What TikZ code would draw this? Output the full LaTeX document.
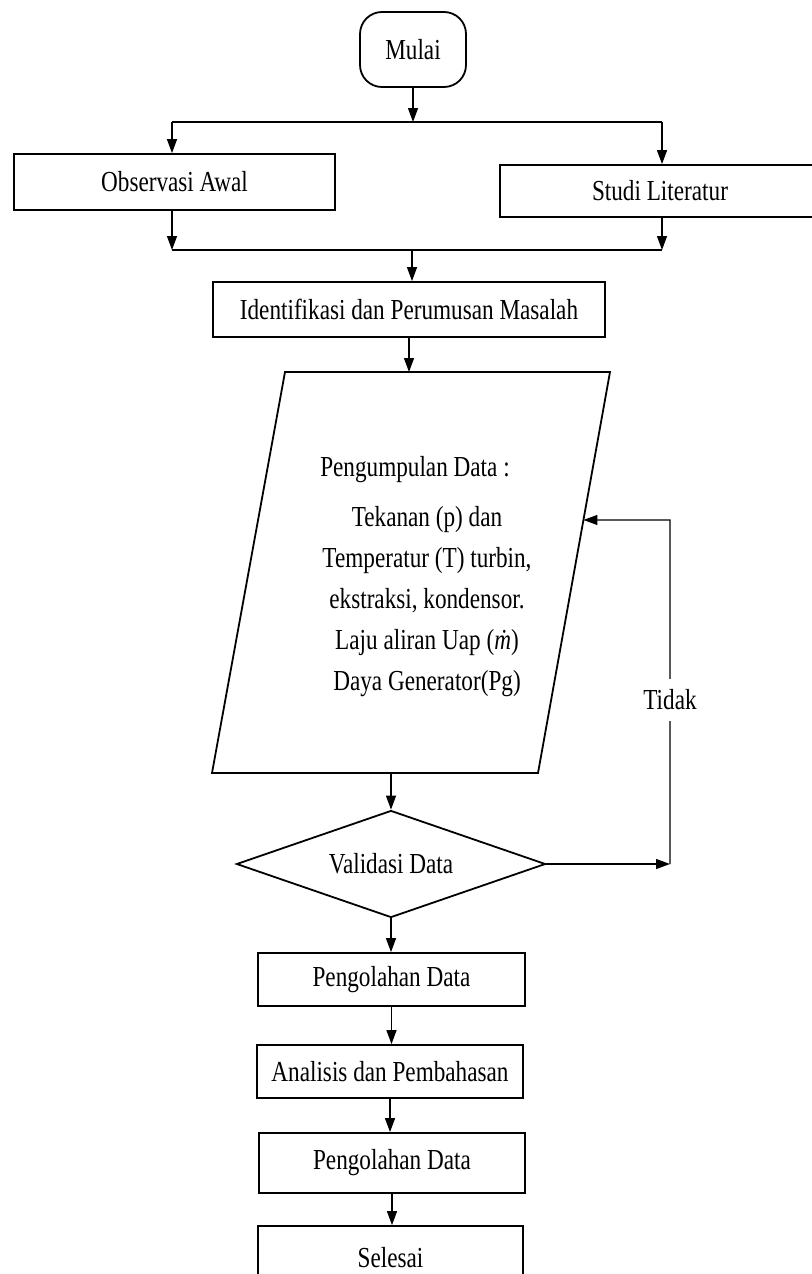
\documentclass[tikz,border=0pt]{standalone}
\usepackage{fontspec}
\setmainfont{Liberation Serif}[FakeStretch=0.8]
\usetikzlibrary{shapes.geometric,arrows.meta,calc}
\begin{document}
\begin{tikzpicture}[x=1pt,y=-1pt,
  every node/.style={font=\fontsize{29}{41}\selectfont},
  box/.style={draw, line width=1.8pt, inner sep=0pt, rectangle},
  arr/.style={line width=1.3pt, -{Triangle[length=14pt,width=10pt]}},
  ln/.style={line width=1.3pt},
]
\useasboundingbox (0,0) rectangle (811,1274);

% nodes
\node[box, rounded corners=22pt, minimum width=106pt, minimum height=75pt] (mulai) at (413,49.5) {Mulai};
\node[box, minimum width=321pt, minimum height=56pt] (obs) at (174.5,182) {Observasi Awal};
\node[box, minimum width=320pt, minimum height=52pt] (studi) at (660,191) {Studi Literatur};
\node[box, minimum width=392pt, minimum height=55pt] (iden) at (409,309.5) {Identifikasi dan Perumusan Masalah};

\coordinate (tl) at (285,372);
\coordinate (tr) at (610,372);
\coordinate (br) at (538,773);
\coordinate (bl) at (212,773);
\draw[line width=1.8pt] (tl) -- (tr) -- (br) -- (bl) -- cycle;
\node (dtitle) at (415,470) {Pengumpulan Data :};
\node[align=center, inner sep=0pt] (dlist) at (427,601.5) {Tekanan (p) dan\\Temperatur (T) turbin,\\ekstraksi, kondensor.\\Laju aliran Uap (\textit{\.m})\\Daya Generator(Pg)};

\node[draw, diamond, line width=1.8pt, inner sep=0pt, aspect=2.9, minimum width=309pt, minimum height=107pt] (dia) at (391,864) {Validasi Data};

\node[box, minimum width=267pt, minimum height=53pt] (p1) at (391.5,979.5) {Pengolahan Data};
\node[box, minimum width=266pt, minimum height=53pt] (an) at (390,1071.5) {Analisis dan Pembahasan};
\node[box, minimum width=266pt, minimum height=60pt] (p2) at (392,1163) {Pengolahan Data};
\node[box, minimum width=265pt, minimum height=64pt] (sel) at (390.5,1258) {Selesai};

% connectors
\coordinate (split) at (413,122);
\coordinate (sl) at (172,122);
\coordinate (sr) at (662,122);
\draw[arr] (mulai.south) -- (split);
\draw[ln] (sl) -- (sr);
\draw[arr] (sl) -- (sl |- obs.north);
\draw[arr] (sr) -- (sr |- studi.north);

\coordinate (ml) at (172,250);
\coordinate (mr) at (662,250);
\coordinate (mm) at (412,250);
\draw[arr] (obs.south -| ml) -- (ml);
\draw[arr] (studi.south -| mr) -- (mr);
\draw[ln] (ml) -- (mr);
\draw[arr] (mm) -- (mm |- iden.north);

\draw[arr] (iden.south) -- (iden.south |- tl);
\draw[arr] (dia.north |- bl) -- (dia.north);

\coordinate (fb) at (670,864);
\coordinate (ft) at (670,520);
\coordinate (pe) at ($(tr)!0.369!(br)$);
\draw[arr] (dia.east) -- (fb);
\draw[arr] (fb) -- (ft) node[pos=0.477, fill=white, inner xsep=2pt, inner ysep=11pt] (tidak) {Tidak} -- (pe);

\draw[arr] (dia.south) -- (dia.south |- p1.north);
\draw[arr] (p1.south) -- (p1.south |- an.north);
\draw[arr] (an.south) -- (an.south |- p2.north);
\draw[arr] (p2.south) -- (p2.south |- sel.north);
\end{tikzpicture}
\end{document}
